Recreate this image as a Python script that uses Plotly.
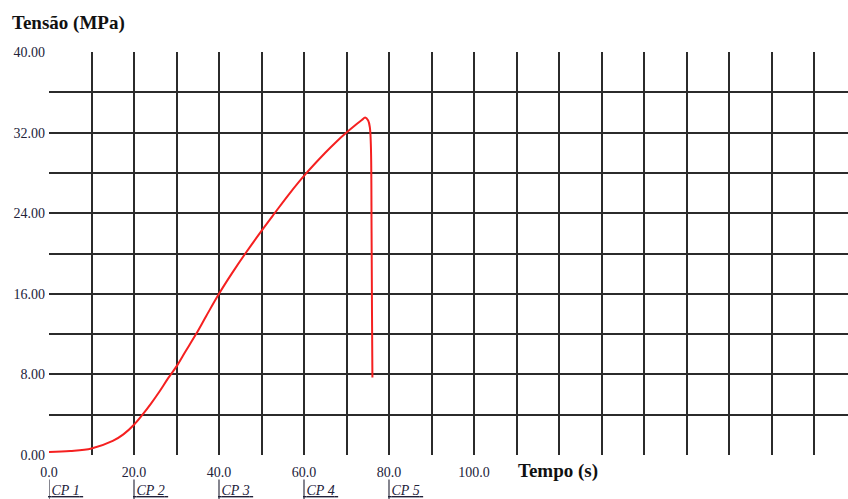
import plotly.graph_objects as go

# Stress-time record of the compression test
tempo_s = [0, 5, 10, 15, 17.5, 20, 22, 24, 26, 28, 30, 32, 34.6, 37, 40, 43,
           46.2, 50, 53.0, 56.5, 60.4, 65, 67.5, 70, 72.4, 73.6, 74.4, 75.1,
           75.5, 75.75, 75.9, 76.0, 76.1]
tensao_mpa = [0.3, 0.4, 0.65, 1.4, 2.05, 3.0, 4.0, 5.1, 6.3, 7.6, 8.8, 10.2, 12.0,
              13.8, 16.0, 18.0, 20.0, 22.25, 23.95, 25.9, 27.9, 30.0, 31.05, 32.0,
              32.85, 33.25, 33.5, 33.2, 32.5, 30.5, 22.0, 14.0, 7.7]

# Axis ticks
x_grid = list(range(0, 190, 10))
x_labels = {0: "0.0", 20: "20.0", 40: "40.0", 60: "60.0", 80: "80.0", 100: "100.0"}
y_grid = list(range(0, 44, 4))
y_labels = {0: "0.00", 8: "8.00", 16: "16.00", 24: "24.00", 32: "32.00", 40: "40.00"}

# Specimen markers along the time axis
cp_tempo = [0, 20, 40, 60, 80]
cp_nome = ["CP 1", "CP 2", "CP 3", "CP 4", "CP 5"]

serif = "Liberation Serif, Times New Roman, serif"
grid_col = "#2b2b2b"
label_col = "#22223a"

fig = go.Figure()
fig.add_trace(go.Scatter(
    x=tempo_s, y=tensao_mpa, mode="lines",
    line=dict(color="#f52020", width=2, shape="spline", smoothing=1.0),
    hoverinfo="skip", showlegend=False,
))

fig.update_layout(
    width=848, height=499,
    margin=dict(l=49, r=0, t=52, b=44),
    paper_bgcolor="white", plot_bgcolor="white",
    title=dict(text="<b>Tensão (MPa)</b>", xref="container", yref="container",
               x=12 / 848, xanchor="left", y=1 - 22 / 499, yanchor="middle",
               font=dict(family=serif, size=19, color="#111111")),
    xaxis=dict(range=[0, 188], tickvals=x_grid,
               ticktext=[x_labels.get(v, "") for v in x_grid],
               showgrid=True, gridcolor=grid_col, gridwidth=1.7,
               zeroline=False, showline=False, ticks="",
               ticklabelstandoff=7,
               tickfont=dict(family=serif, size=14, color=label_col),
               fixedrange=True),
    yaxis=dict(range=[0, 40], tickvals=y_grid,
               ticktext=[y_labels.get(v, "") for v in y_grid],
               showgrid=True, gridcolor=grid_col, gridwidth=1.7,
               zeroline=False, showline=False, ticks="",
               ticklabelstandoff=3,
               tickfont=dict(family=serif, size=14, color=label_col),
               fixedrange=True),
)

# x-axis title placed on the tick-label row
fig.add_annotation(text="<b>Tempo (s)</b>", xref="paper", yref="paper",
                   x=0.637, y=0, yshift=-16, xanchor="center", yanchor="middle",
                   showarrow=False, font=dict(family=serif, size=19, color="#111111"))

# CP markers: short bar plus underlined italic label
for t, nome in zip(cp_tempo, cp_nome):
    fig.add_shape(type="line", xref="x", yref="paper", x0=t, x1=t,
                  y0=-0.061, y1=-0.11, line=dict(color="#333344", width=1.2))
    fig.add_annotation(text="<u> <i>" + nome + "</i> </u>", xref="x", yref="paper",
                       x=t, y=-0.087, xanchor="left", yanchor="middle",
                       xshift=-3, showarrow=False,
                       font=dict(family=serif, size=14, color=label_col))

fig.write_html("out.html")
